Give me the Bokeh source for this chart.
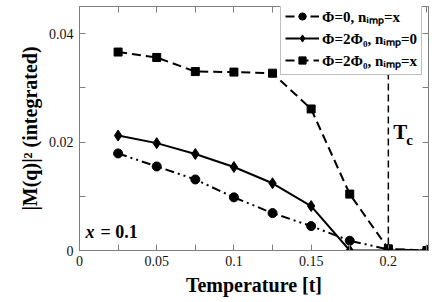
from bokeh.plotting import figure
from bokeh.models import (FixedTicker, NumeralTickFormatter, LinearAxis, Legend, LegendItem,
                          Span, Label, Range1d, CustomLabelingPolicy)
from bokeh.embed import file_html
from bokeh.resources import INLINE

# ---- data ----
temperature = [0.025, 0.05, 0.075, 0.1, 0.125, 0.15, 0.175, 0.2, 0.225]
m2_phi0_imp = [0.0179, 0.0155, 0.0131, 0.0098, 0.0069, 0.0045, 0.0018, 0.0002, 0.0]
m2_2phi0_noimp = [0.0212, 0.0198, 0.0178, 0.0154, 0.0124, 0.0082, 0.0, 0.0, 0.0]
m2_2phi0_imp = [0.0366, 0.0356, 0.0330, 0.0329, 0.0327, 0.0261, 0.0104, 0.0003, 0.0]
Tc = 0.2
x_major = [0, 0.05, 0.1, 0.15, 0.2]
x_minor = [0.025, 0.075, 0.125, 0.175, 0.225]
y_major = [0, 0.02, 0.04]
y_minor = [0.01, 0.03]
labels = ["\u03a6=0, n\u1d62\u2098\u209a=x",
          "\u03a6=2\u03a6\u2080, n\u1d62\u2098\u209a=0",
          "\u03a6=2\u03a6\u2080, n\u1d62\u2098\u209a=x"]

SERIF = "Liberation Serif"
GRAY = "#7f7f7f"

p = figure(width=436, height=302, output_backend="svg", toolbar_location=None,
           x_range=Range1d(0, 0.226), y_range=Range1d(0, 0.045),
           min_border_left=79, min_border_right=8, min_border_top=6, min_border_bottom=52)
p.xgrid.visible = False
p.ygrid.visible = False
p.outline_line_color = GRAY
p.outline_line_width = 1
p.background_fill_color = "white"
p.border_fill_color = "white"

no_labels = CustomLabelingPolicy(code="return new Set()")

def style_axis(ax, ticks, minor, show_labels):
    ax.ticker = FixedTicker(ticks=ticks, minor_ticks=minor)
    ax.formatter = NumeralTickFormatter(format="0.[00]")
    ax.axis_line_color = GRAY
    ax.major_tick_line_color = GRAY
    ax.minor_tick_line_color = GRAY
    ax.major_tick_in = 6
    ax.major_tick_out = 0
    ax.minor_tick_in = 6
    ax.minor_tick_out = 0
    ax.major_label_text_font = SERIF
    ax.major_label_text_font_size = "14px"
    ax.major_label_text_color = "#111111"
    if not show_labels:
        ax.major_label_policy = no_labels
        ax.major_label_text_font_size = "0px"
        ax.major_label_standoff = 0

style_axis(p.xaxis[0], x_major, x_minor, True)
style_axis(p.yaxis[0], y_major, y_minor, True)
p.xaxis[0].major_label_standoff = 5
p.yaxis[0].major_label_standoff = 6
p.xaxis[0].axis_label = "Temperature [t]"
p.yaxis[0].axis_label = "|M(q)|\u00b2 (integrated)"
for ax in (p.xaxis[0], p.yaxis[0]):
    ax.axis_label_text_font = SERIF
    ax.axis_label_text_font_style = "bold"
    ax.axis_label_text_font_size = "20px"
    ax.axis_label_text_color = "black"
p.xaxis[0].axis_label_standoff = 5
p.yaxis[0].axis_label_standoff = 5

top_ax = LinearAxis()
style_axis(top_ax, x_major, x_minor, False)
right_ax = LinearAxis()
style_axis(right_ax, y_major, y_minor, False)
p.add_layout(top_ax, "above")
p.add_layout(right_ax, "right")

# Tc line
p.add_layout(Span(location=Tc, dimension="height", line_color="black",
                  line_width=1.5, line_dash="7 4"))
p.add_layout(Label(x=Tc, y=0.0197, x_offset=5, text="T", text_font=SERIF,
                   text_font_style="bold", text_font_size="21px", text_color="black"))
p.add_layout(Label(x=Tc, y=0.0197, x_offset=18, y_offset=-4, text="c", text_font=SERIF,
                   text_font_style="bold", text_font_size="15px", text_color="black"))

# x = 0.1 annotation
p.add_layout(Label(x=6, y=9, x_units="screen", y_units="screen", text="x", text_font=SERIF,
                   text_font_style="bold italic", text_font_size="18px", text_color="black"))
p.add_layout(Label(x=21, y=9, x_units="screen", y_units="screen", text="= 0.1", text_font=SERIF,
                   text_font_style="bold", text_font_size="18px", text_color="black"))

# series
l1 = p.line(temperature, m2_phi0_imp, line_color="black", line_width=2, line_dash="9 4 2 4 2 4")
s1 = p.scatter(temperature, m2_phi0_imp, marker="circle", size=9, color="black")
l2 = p.line(temperature, m2_2phi0_noimp, line_color="black", line_width=2)
s2 = p.scatter(temperature, m2_2phi0_noimp, marker="diamond", size=11, color="black")
l3 = p.line(temperature, m2_2phi0_imp, line_color="black", line_width=2, line_dash="9 5")
s3 = p.scatter(temperature, m2_2phi0_imp, marker="square", size=8, color="black")

legend = Legend(items=[LegendItem(label=labels[0], renderers=[l1, s1]),
                       LegendItem(label=labels[1], renderers=[l2, s2]),
                       LegendItem(label=labels[2], renderers=[l3, s3])],
                location=(201, 175), padding=4, margin=0, spacing=2,
                glyph_width=34, glyph_height=18, label_standoff=3, label_height=18,
                label_text_font=SERIF, label_text_font_style="bold",
                label_text_font_size="15px", label_text_color="black",
                border_line_color=GRAY, border_line_width=1,
                background_fill_color="white", background_fill_alpha=1)
p.add_layout(legend, "center")

open("out.html", "w").write(file_html(p, INLINE))
